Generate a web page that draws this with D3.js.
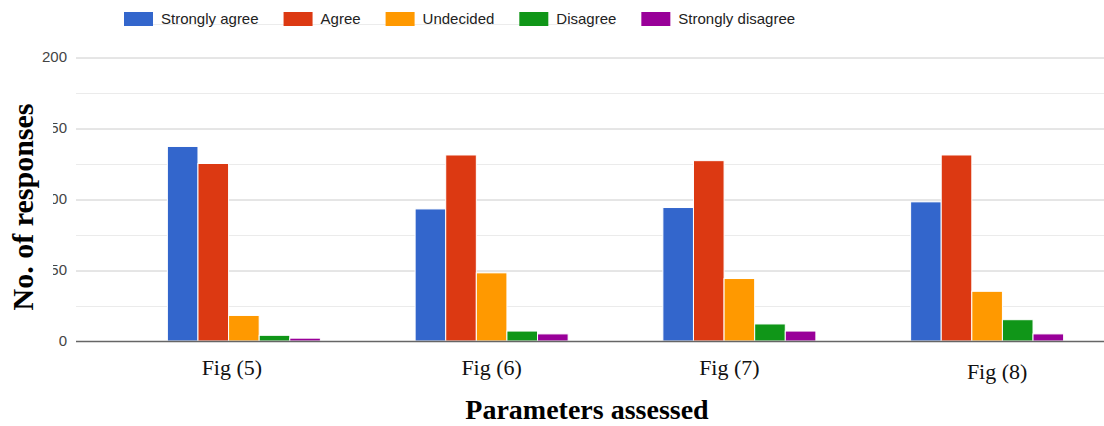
<!DOCTYPE html>
<html>
<head>
<meta charset="utf-8">
<script src="https://cdn.jsdelivr.net/npm/d3@7"></script>
<style>
  html, body { margin: 0; padding: 0; background: #fff; }
  svg { display: block; }
</style>
</head>
<body>
<svg id="chart" width="1104" height="426"></svg>
<script>
// ---- data ----
const categories = ["Fig (5)", "Fig (6)", "Fig (7)", "Fig (8)"];
const seriesNames = ["Strongly agree", "Agree", "Undecided", "Disagree", "Strongly disagree"];
const stronglyAgree    = [137, 93, 94, 98];
const agree            = [125, 131, 127, 131];
const undecided        = [18, 48, 44, 35];
const disagree         = [4, 7, 12, 15];
const stronglyDisagree = [2, 5, 7, 5];
const yTicks = [0, 50, 100, 150, 200];
const yMinorTicks = [25, 75, 125, 175];

const seriesValues = [stronglyAgree, agree, undecided, disagree, stronglyDisagree];
const colors = ["#3366cc", "#dc3912", "#ff9900", "#109618", "#990099"];

const svg = d3.select("#chart");
const plotLeft = 76, plotRight = 1104, yTop = 57, yBottom = 341;

const y = d3.scaleLinear().domain([0, 200]).range([yBottom, yTop]);
const pIn = 0.3824;
const x0 = d3.scaleBand().domain(categories).range([120, 1111]).paddingInner(pIn).paddingOuter(pIn / 2);
const x1 = d3.scaleBand().domain(seriesNames).range([0, x0.bandwidth()]).padding(0);

// faint line behind legend
svg.append("line").attr("x1", 124).attr("x2", 615).attr("y1", 24.5).attr("y2", 24.5)
  .attr("stroke", "#ececec").attr("stroke-width", 1);

// minor gridlines
svg.append("g").selectAll("line").data(yMinorTicks).join("line")
  .attr("x1", plotLeft).attr("x2", plotRight)
  .attr("y1", d => Math.round(y(d)) + 0.5).attr("y2", d => Math.round(y(d)) + 0.5)
  .attr("stroke", "#ebebeb").attr("stroke-width", 1);

// major gridlines + labels via axis
const yAxis = d3.axisLeft(y).tickValues(yTicks).tickSize(-(plotRight - plotLeft)).tickPadding(9);
const gy = svg.append("g").attr("transform", `translate(${plotLeft},0)`).call(yAxis);
gy.select(".domain").remove();
gy.selectAll(".tick line").attr("stroke", d => d === 0 ? "none" : "#cccccc").attr("stroke-width", 1)
  .attr("transform", "translate(0,0.5)");
gy.selectAll(".tick text")
  .attr("font-family", "Arial, 'Liberation Sans', sans-serif")
  .attr("font-size", 15).attr("fill", "#444").attr("x", -9);

// bars
const groups = svg.append("g").selectAll("g").data(categories).join("g")
  .attr("transform", d => `translate(${x0(d)},0)`);
groups.selectAll("rect")
  .data((d, i) => seriesNames.map((s, j) => ({ s, v: seriesValues[j][i], c: colors[j] })))
  .join("rect")
  .attr("x", d => x1(d.s))
  .attr("y", d => y(d.v))
  .attr("width", x1.bandwidth())
  .attr("height", d => y(0) - y(d.v))
  .attr("fill", d => d.c)
  .attr("stroke", "#fff").attr("stroke-width", 1);

// baseline
svg.append("line").attr("x1", plotLeft).attr("x2", plotRight)
  .attr("y1", yBottom + 0.5).attr("y2", yBottom + 0.5)
  .attr("stroke", "#666").attr("stroke-width", 1.5);

// x axis category labels
const xAxis = d3.axisBottom(x0).tickSize(0).tickPadding(0);
const gx = svg.append("g").attr("transform", `translate(0,${yBottom})`).call(xAxis);
gx.select(".domain").remove();
gx.selectAll(".tick text")
  .attr("font-family", "'Liberation Serif', 'Times New Roman', serif")
  .attr("font-size", 22).attr("fill", "#111")
  .attr("dy", 0).attr("y", 34)
  .attr("dx", (d, i) => [-12, 0, -10, 10][i])
  .attr("transform", (d, i) => i === 3 ? "translate(0,4)" : null);

// legend
const legend = svg.append("g").attr("transform", "translate(124,12)");
let lx = 0;
seriesNames.forEach((name, i) => {
  const g = legend.append("g").attr("transform", `translate(${lx},0)`);
  g.append("rect").attr("width", 29).attr("height", 14).attr("fill", colors[i]);
  const t = g.append("text").attr("x", 37).attr("y", 12)
    .attr("font-family", "Arial, 'Liberation Sans', sans-serif")
    .attr("font-size", 15).attr("fill", "#222").text(name);
  lx += 37 + t.node().getComputedTextLength() + 25;
});

// y title (with white backing, overlapping tick labels as in the reference)
svg.append("rect").attr("x", 0).attr("y", 96).attr("width", 53).attr("height", 222).attr("fill", "#fff");
svg.append("text")
  .attr("transform", "translate(33,207) rotate(-90)")
  .attr("text-anchor", "middle")
  .attr("font-family", "'Liberation Serif', 'Times New Roman', serif")
  .attr("font-weight", "bold").attr("font-size", 30).attr("fill", "#000")
  .text("No. of responses");

// x title
svg.append("text")
  .attr("x", 587).attr("y", 419)
  .attr("text-anchor", "middle")
  .attr("font-family", "'Liberation Serif', 'Times New Roman', serif")
  .attr("font-weight", "bold").attr("font-size", 28).attr("fill", "#000")
  .text("Parameters assessed");
</script>
</body>
</html>
